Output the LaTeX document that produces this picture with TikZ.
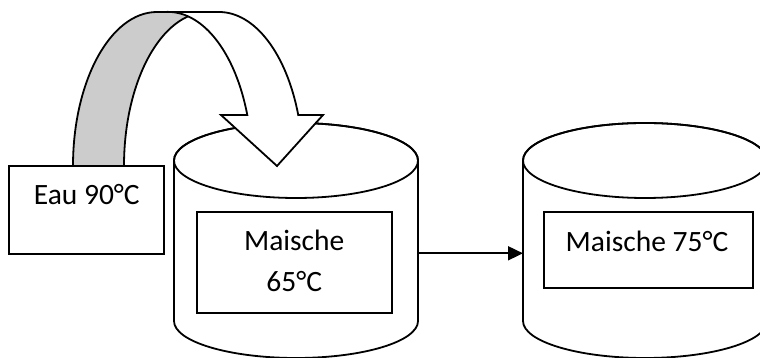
\documentclass[tikz,border=0pt]{standalone}
\usepackage{fontspec}
\setmainfont{Carlito}
\usetikzlibrary{arrows.meta}
\definecolor{bandgray}{RGB}{204,204,204}
\tikzset{
  outl/.style={draw=black, line width=1.8pt, line join=miter},
  txtbox/.style={outl, fill=white, inner sep=0pt},
  lbl/.style={font=\fontsize{29.5}{41}\selectfont, anchor=base, inner sep=0pt},
}
\begin{document}
\begin{tikzpicture}[x=1pt,y=1pt]
\useasboundingbox (0,0) rectangle (760,358);
\clip (0,0) rectangle (760,358);
\fill[white] (0,0) rectangle (760,358);

% cylinder 1
\path[outl, fill=white] (174,197.5) -- (174,37) arc[start angle=180, end angle=360, x radius=122, y radius=37] -- (418,197.5) arc[start angle=0, end angle=180, x radius=122, y radius=37.5] -- cycle;
\draw[outl] (296,197.5) ellipse[x radius=122, y radius=37.5];
% cylinder 2
\path[outl, fill=white] (523,197.5) -- (523,37) arc[start angle=180, end angle=360, x radius=122, y radius=37] -- (767,197.5) arc[start angle=0, end angle=180, x radius=122, y radius=37.5] -- cycle;
\draw[outl] (645,197.5) ellipse[x radius=122, y radius=37.5];

% curved arrow: back band (grey)
\path[outl, fill=bandgray] (73,192) arc[start angle=180, end angle=90, x radius=84, y radius=154] -- (208,346) arc[start angle=90, end angle=180, x radius=84, y radius=154] -- cycle;
% front band with head (white)
\path[outl, fill=white] (157,346) -- (219,346) arc[start angle=90, end angle=19.3, x radius=84, y radius=154] -- (323,243) -- (277,192) -- (221,243) -- (247.3,243) arc[start angle=19.3, end angle=90, x radius=84, y radius=154] -- cycle;

% boxes
\node[txtbox, minimum width=155, minimum height=88.3] (eau) at (86.8,148.15) {};
\node[lbl] (eautxt) at (86.8,153) {Eau 90°C};

\node[txtbox, minimum width=195, minimum height=101] (m1) at (294.2,95.8) {};
\node[lbl] (m1a) at (294.2,107) {Maische};
\node[lbl] (m1b) at (294.2,66.3) {65°C};

\node[txtbox, minimum width=209, minimum height=76] (m2) at (648.8,107.7) {};
\node[lbl] (m2txt) at (647,106.3) {Maische 75°C};

% connector between cylinders
\coordinate (c1r) at (418,104.7);
\coordinate (c2l) at (523,104.7);
\draw[line width=1.8pt, -{Triangle[length=15pt, width=14pt]}] (c1r) -- (c2l);
\end{tikzpicture}
\end{document}
